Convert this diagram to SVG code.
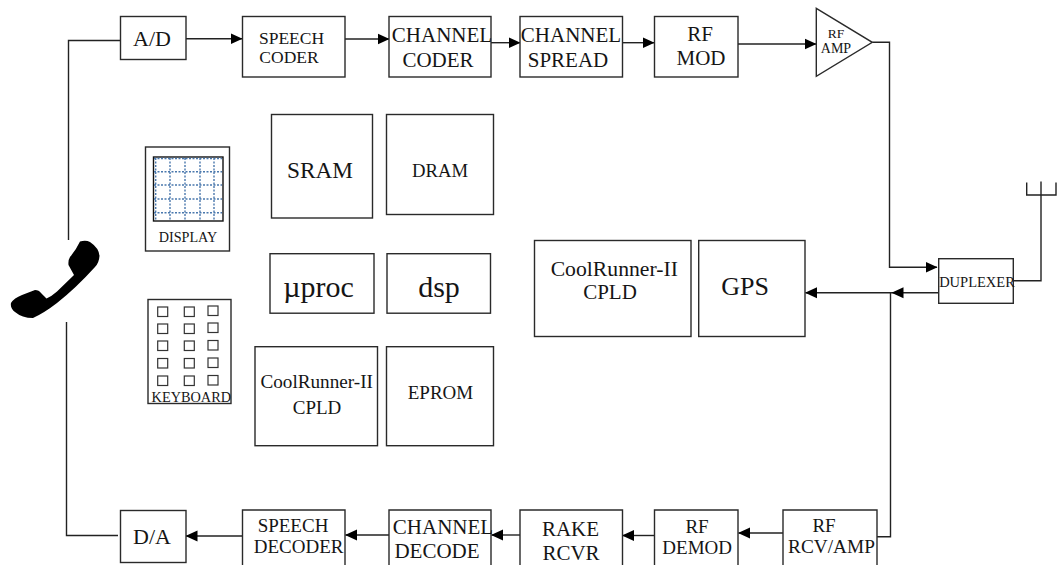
<svg xmlns="http://www.w3.org/2000/svg" width="1061" height="565" viewBox="0 0 1061 565">
<style>
text{font-family:"Liberation Serif","Times New Roman",serif;fill:#151515;text-anchor:middle}
.b{fill:#fff;stroke:#2a2a2a;stroke-width:1.4}
.o{fill:none;stroke:#2a2a2a;stroke-width:1.4}
.c{fill:none;stroke:#222;stroke-width:1.4}
.a{marker-end:url(#arrow)}
.g{stroke:#4a78ad;stroke-width:1.4;stroke-dasharray:2 1.5;fill:none}
.k{fill:#fff;stroke:#333;stroke-width:1.2}
</style>
<defs>
<marker id="arrow" markerUnits="userSpaceOnUse" markerWidth="12" markerHeight="12" viewBox="0 0 12 12" refX="11.5" refY="6" orient="auto"><path d="M0 .5L12 6L0 11.5Z" fill="#000"/></marker>
</defs>
<rect width="1061" height="565" fill="#fff"/>
<g id="connectors">
<path class="c" d="M120 40.5H68.5V240"/>
<path class="c" d="M66.5 322V535.5H118"/>
<path class="c a" d="M186 38.7H242"/>
<path class="c a" d="M344 39H389"/>
<path class="c a" d="M491 42.7H520"/>
<path class="c a" d="M622 42.7H654"/>
<path class="c a" d="M738 44H816"/>
<path class="c a" d="M872.5 42.3H889.5V267.3H937"/>
<path class="c a" d="M938.5 292.7H892"/>
<path class="c a" d="M892 292.7H805.5"/>
<path class="c" d="M890.5 292.7V536.7H877"/>
<path class="c a" d="M783 533H738.5"/>
<path class="c a" d="M654 535.5H622.5"/>
<path class="c a" d="M520 535H491.5"/>
<path class="c a" d="M389 535H345.5"/>
<path class="c a" d="M242 536H186"/>
<path class="c" d="M1013.5 280.7H1041V181.5M1026.7 182.5V195H1056V182.5"/>
</g>
<g id="phone"><path d="M80 241.5Q86 240 90 242Q99 248 99.5 256Q99 263 95 267Q76 288 57 303Q44 313 33 318Q22 318 15 312Q10 308 11 303Q14 298 22 295L35 290Q39 290 41 293L46.5 298.5Q52 296 57 291.5L74 275L68.5 265Q68 260 70 257Q76 250 80 241.5Z" fill="#000"/></g>
<g id="ad"><rect class="b" x="120.500" y="16.500" width="65.500" height="43"/><text x="152" y="45.700" font-size="22">A/D</text></g>
<g id="speech-coder"><rect class="b" x="242.500" y="16.500" width="102.500" height="60.500"/><text x="291.500" y="44" font-size="17.500">SPEECH</text><text x="289" y="62.500" font-size="17.500">CODER</text></g>
<g id="channel-coder"><rect class="b" x="389" y="16.500" width="102" height="60.500"/><text x="442" y="42" font-size="21">CHANNEL</text><text x="438" y="67" font-size="21">CODER</text></g>
<g id="channel-spread"><rect class="b" x="520" y="16.500" width="102.500" height="60.500"/><text x="571" y="42" font-size="21">CHANNEL</text><text x="568" y="67" font-size="21">SPREAD</text></g>
<g id="rf-mod"><rect class="b" x="654.500" y="16.500" width="83.500" height="60.500"/><text x="700" y="41" font-size="21">RF</text><text x="701" y="65" font-size="21">MOD</text></g>
<g id="rf-amp"><path class="b" d="M816.300 8.300L872.300 42.300L816.300 76.300Z"/><text x="836" y="38" font-size="13.500">RF</text><text x="836" y="52.700" font-size="14">AMP</text></g>
<g id="display"><rect class="b" x="145.500" y="147" width="84" height="104"/><rect x="153.500" y="157" width="69.500" height="64" fill="#fff" stroke="#111" stroke-width="1.400"/>
<path class="g" d="M155.700 158V220M170 158V220M185 158V220M200 158V220M214 158V220M154 158.500H222M154 171.700H222M154 185H222M154 199H222M154 212.700H222"/>
<text x="188" y="241.700" font-size="14.200">DISPLAY</text></g>
<g id="keyboard"><rect class="b" x="148" y="299.500" width="83" height="104"/>
<rect class="k" x="157.700" y="307" width="10" height="9.500"/><rect class="k" x="184.300" y="307" width="10" height="9.500"/><rect class="k" x="208" y="306" width="10" height="9.500"/>
<rect class="k" x="157.700" y="324" width="10" height="9.500"/><rect class="k" x="184.300" y="324" width="10" height="9.500"/><rect class="k" x="208" y="323" width="10" height="9.500"/>
<rect class="k" x="157.700" y="341" width="10" height="9.500"/><rect class="k" x="184.300" y="341" width="10" height="9.500"/><rect class="k" x="208" y="340.500" width="10" height="9.500"/>
<rect class="k" x="157.700" y="358.500" width="10" height="9.500"/><rect class="k" x="184.300" y="358.500" width="10" height="9.500"/><rect class="k" x="208" y="358" width="10" height="9.500"/>
<rect class="k" x="157.700" y="376" width="10" height="9.500"/><rect class="k" x="184.300" y="376" width="10" height="9.500"/><rect class="k" x="208" y="375.500" width="10" height="9.500"/>
<text x="191.300" y="401.700" font-size="14.300">KEYBOARD</text></g>
<g id="sram"><rect class="b" x="271.500" y="114.500" width="101" height="103.500"/><text x="320" y="177.700" font-size="23.300">SRAM</text></g>
<g id="dram"><rect class="b" x="386.500" y="114.500" width="107" height="100"/><text x="440" y="177" font-size="18.700">DRAM</text></g>
<g id="uproc"><rect class="b" x="270" y="253.700" width="104" height="59.500"/><text x="318.500" y="296.700" font-size="30">µproc</text></g>
<g id="dsp"><rect class="b" x="387" y="253.700" width="103.500" height="59.500"/><text x="439" y="296.700" font-size="30">dsp</text></g>
<g id="cpld-left"><rect class="b" x="255" y="346.700" width="122.500" height="99"/><text x="316.700" y="387.700" font-size="19.200">CoolRunner-II</text><text x="317" y="414" font-size="19">CPLD</text></g>
<g id="eprom"><rect class="b" x="386.500" y="346.700" width="107" height="99"/><text x="440.500" y="399" font-size="19">EPROM</text></g>
<g id="cpld-right"><rect class="b" x="534.500" y="240.500" width="156.500" height="96"/><text x="614.300" y="275.700" font-size="21.700">CoolRunner-II</text><text x="610" y="299" font-size="21">CPLD</text></g>
<g id="gps"><rect class="b" x="698.700" y="240.500" width="106.300" height="96"/><text x="745" y="295" font-size="26">GPS</text></g>
<g id="duplexer"><rect class="b" x="938.700" y="258.700" width="74.600" height="44.600"/><text x="977" y="287" font-size="14.500">DUPLEXER</text></g>
<g id="da"><rect class="b" x="120.500" y="510.500" width="65.500" height="52"/><text x="152" y="544" font-size="22">D/A</text></g>
<g id="speech-decoder"><path class="o" d="M242.500 565V510H345V565"/><text x="293" y="531.700" font-size="19">SPEECH</text><text x="298.600" y="553" font-size="19">DECODER</text></g>
<g id="channel-decode"><path class="o" d="M389 565V510H491V565"/><text x="443" y="534" font-size="21">CHANNEL</text><text x="437" y="558" font-size="21">DECODE</text></g>
<g id="rake"><path class="o" d="M520 565V510H622.500V565"/><text x="570.500" y="536" font-size="21">RAKE</text><text x="571" y="560" font-size="21">RCVR</text></g>
<g id="rf-demod"><path class="o" d="M654.500 565V510H738V565"/><text x="697" y="533" font-size="19">RF</text><text x="697.200" y="554" font-size="19">DEMOD</text></g>
<g id="rf-rcv"><path class="o" d="M783 565V510H877V565"/><text x="824" y="532" font-size="19">RF</text><text x="831.500" y="553" font-size="19.300">RCV/AMP</text></g>
</svg>
